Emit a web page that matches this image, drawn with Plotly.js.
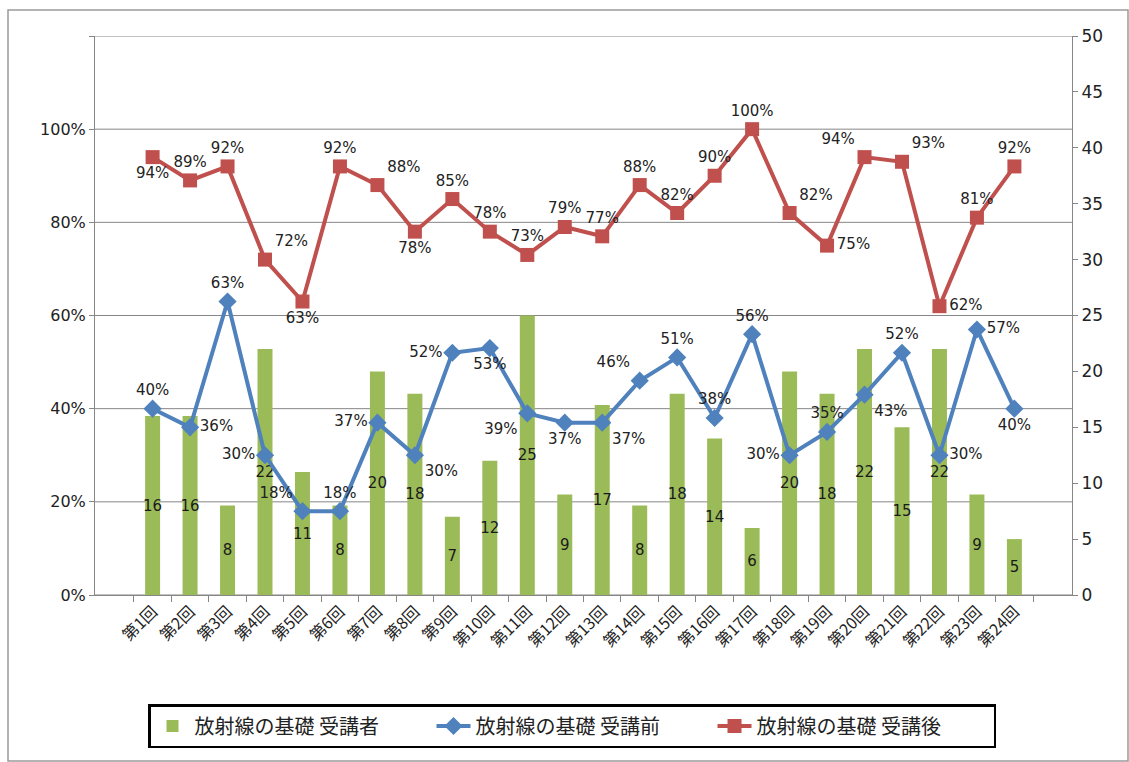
<!DOCTYPE html>
<html><head><meta charset="utf-8">
<script src="https://cdn.plot.ly/plotly-3.0.1.min.js"></script>
<style>html,body{margin:0;padding:0;background:#fff}#c{width:1129px;height:762px}</style>
</head><body><div id="c"></div>
<script>
const categories = ["第1回","第2回","第3回","第4回","第5回","第6回","第7回","第8回","第9回","第10回","第11回","第12回","第13回","第14回","第15回","第16回","第17回","第18回","第19回","第20回","第21回","第22回","第23回","第24回"];
const attendees = [16,16,8,22,11,8,20,18,7,12,25,9,17,8,18,14,6,20,18,22,15,22,9,5];
const before = [0.40,0.36,0.63,0.30,0.18,0.18,0.37,0.30,0.52,0.53,0.39,0.37,0.37,0.46,0.51,0.38,0.56,0.30,0.35,0.43,0.52,0.30,0.57,0.40];
const after = [0.94,0.89,0.92,0.72,0.63,0.92,0.88,0.78,0.85,0.78,0.73,0.79,0.77,0.88,0.82,0.90,1.00,0.82,0.75,0.94,0.93,0.62,0.81,0.92];
const seriesNames = ["放射線の基礎 受講者","放射線の基礎 受講前","放射線の基礎 受講後"];
const leftTicks = [0,0.2,0.4,0.6,0.8,1.0,1.2];
const leftTickText = ["0%","20%","40%","60%","80%","100%",""];

const beforePos = ["top center","middle right","top center","middle left","top left","top center","middle left","bottom right","middle left","bottom center","bottom left","bottom center","bottom right","top left","top center","top center","top center","middle left","top center","bottom right","top center","middle right","middle right","bottom center"];
const afterPos = ["bottom center","top center","top center","top right","bottom center","top center","top right","bottom center","top center","top center","top center","top center","top center","top center","top center","top center","top center","top right","middle right","top left","top right","middle right","top center","top center"];

const pct = a => a.map(v => Math.round(v*100) + "%");
const numFont = {family: "DejaVu Sans, Verdana, sans-serif", size: 15, color: "#222"};

const traces = [
  {type: "bar", name: seriesNames[0], x: categories, y: attendees, yaxis: "y",
   marker: {color: "#9BBB59"}, text: attendees.map(String), textposition: "inside",
   insidetextanchor: "middle", textangle: 0, constraintext: "none",
   textfont: {family: "DejaVu Sans, Verdana, sans-serif", size: 15, color: "#1a1a1a"}},
  {type: "scatter", mode: "lines+markers+text", name: seriesNames[1], x: categories, y: before, yaxis: "y2",
   line: {color: "#4F81BD", width: 4}, marker: {symbol: "diamond", size: 14, color: "#4F81BD"},
   text: pct(before), textposition: beforePos, textfont: numFont, cliponaxis: false},
  {type: "scatter", mode: "lines+markers+text", name: seriesNames[2], x: categories, y: after, yaxis: "y2",
   line: {color: "#C0504D", width: 4}, marker: {symbol: "square", size: 14, color: "#C0504D"},
   text: pct(after), textposition: afterPos, textfont: numFont, cliponaxis: false}
];

const L = 95, R = 57, T = 36, B = 167, W = 1129, H = 762;
const pw = W - L - R, ph = H - T - B;
const px = v => (v - L) / pw, py = v => (H - B - v) / ph;

const gridShapes = leftTicks.map(v => ({type: "line", xref: "paper", yref: "y2", x0: 0, x1: 1, y0: v, y1: v,
  line: {color: "#868686", width: 1}, layer: "below"}));

const layout = {
  width: W, height: H,
  margin: {l: L, r: R, t: T, b: B},
  paper_bgcolor: "#fff", plot_bgcolor: "rgba(0,0,0,0)",
  showlegend: true, bargap: 0.6,
  font: {family: "Noto Sans CJK JP, DejaVu Sans, sans-serif", size: 14, color: "#222"},
  xaxis: {type: "category", tickangle: -45, ticks: "outside", tickson: "boundaries", ticklen: 6,
          tickcolor: "#868686", showline: true, linecolor: "#868686", linewidth: 1,
          tickfont: {family: "Noto Sans CJK JP, sans-serif", size: 16, color: "#222"}},
  yaxis: {range: [0, 50], dtick: 5, side: "right", showgrid: false,
          showline: true, linecolor: "#868686", ticks: "outside", ticklen: 5, tickcolor: "#868686",
          zeroline: false,
          tickfont: {family: "DejaVu Sans, Verdana, sans-serif", size: 17, color: "#222"}},
  yaxis2: {range: [0, 1.2], overlaying: "y", side: "left", tickvals: leftTicks, ticktext: leftTickText,
           showgrid: false, showline: true, linecolor: "#868686",
           ticks: "outside", ticklen: 5, tickcolor: "#868686", zeroline: false,
           tickfont: {family: "DejaVu Sans, Verdana, sans-serif", size: 16, color: "#222"}},
  legend: {orientation: "h", x: px(572), xanchor: "center", y: py(704), yanchor: "top",
           bordercolor: "#000", borderwidth: 2.5, bgcolor: "#fff",
           entrywidth: 232, entrywidthmode: "pixels", itemwidth: 34,
           font: {family: "Noto Sans CJK JP, sans-serif", size: 20, color: "#222"}},
  shapes: [
    {type: "rect", xref: "paper", yref: "paper", x0: px(8), x1: px(1128), y0: py(761), y1: py(10),
     line: {color: "#9a9a9a", width: 1.5}, fillcolor: "rgba(0,0,0,0)", layer: "below"}
  ].concat(gridShapes)
};

Plotly.newPlot("c", traces, layout, {displayModeBar: false, staticPlot: true});
</script>
</body></html>
